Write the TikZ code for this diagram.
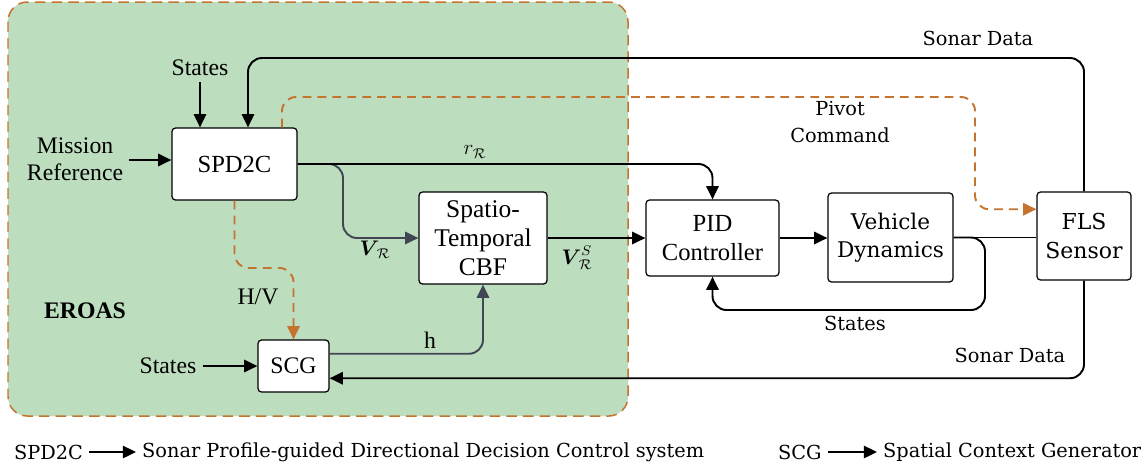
\documentclass[tikz,border=0pt]{standalone}
\usepackage{amsmath}
\usepackage{fontspec}
\setmainfont{Liberation Serif}
\newfontfamily\djserif{DejaVu Serif}
\usepackage{tikz}
\usetikzlibrary{calc}
\usetikzlibrary{arrows.meta}

\definecolor{eroasgreen}{RGB}{189,221,191}
\definecolor{pivotorange}{RGB}{196,116,46}
\definecolor{linkgray}{RGB}{64,70,82}

\begin{document}
\begin{tikzpicture}[x=0.02cm, y=-0.02cm, >={Triangle[length=7.5pt,width=7pt]},
    font=\fontsize{13.5pt}{15.5pt}\selectfont,
    block/.style={draw, fill=white, line width=0.7pt, rounded corners=2pt, align=center},
    dj/.style={font=\djserif\fontsize{11pt}{15pt}\selectfont},
    legend/.style={font=\djserif\fontsize{11pt}{14pt}\selectfont, anchor=west},
    flow/.style={line width=1.1pt},
    pivot/.style={pivotorange, line width=1.1pt, dash pattern=on 5pt off 3.5pt},
    link/.style={linkgray, line width=1.1pt},
    mathlbl/.style={font=\fontsize{12pt}{14pt}\selectfont, inner sep=1pt}]
    \useasboundingbox (0,0) rectangle (1146,468);

    % EROAS region
    \draw[pivotorange, line width=0.85pt, dash pattern=on 6pt off 3.5pt, fill=eroasgreen, rounded corners=11pt]
        (8,2) rectangle (628,416);
    \node[font=\fontsize{13.5pt}{15.5pt}\selectfont\bfseries] (eroas) at (85,311) {EROAS};

    % Blocks
    \node[block, minimum width=125*0.02cm, minimum height=72*0.02cm, font=\fontsize{14pt}{16pt}\selectfont] (spd) at (234.5,164) {SPD2C};
    \node[block, minimum width=128*0.02cm, minimum height=92*0.02cm, font=\fontsize{14.5pt}{16.5pt}\selectfont] (cbf) at (483,238) {Spatio-\\Temporal\\CBF};
    \node[block, minimum width=133*0.02cm, minimum height=76*0.02cm, font=\fontsize{14pt}{16.5pt}\selectfont] (pid) at (712.5,238) {PID\\Controller};
    \node[block, font=\djserif\fontsize{12.3pt}{16pt}\selectfont, minimum width=125*0.02cm, minimum height=89*0.02cm] (veh) at (890.5,237.5) {Vehicle\\Dynamics};
    \node[block, font=\djserif\fontsize{12.5pt}{16pt}\selectfont, minimum width=94*0.02cm, minimum height=88*0.02cm] (fls) at (1084,236) {FLS\\Sensor};
    \node[block, minimum width=71*0.02cm, minimum height=52*0.02cm] (scg) at (293.5,366) {SCG};

    % Inputs and labels
    \node (statesA) at (200,68) {States};
    \node[align=center] (mission) at (75,159) {Mission\\Reference};
    \node (statesB) at (168,366) {States};
    \node[dj] (sonarA) at (978,38) {Sonar Data};
    \node[dj] (sonarB) at (1010,355) {Sonar Data};
    \node[dj, align=center] (pivotlbl) at (840,122) {Pivot\\Command};
    \node[dj] (statesC) at (855,323) {States};
    \node[mathlbl] (rlbl) at (475,152) {$r_{\mathcal{R}}$};
    \node[mathlbl] (vlbl) at (375,250) {$\boldsymbol{V}_{\!\mathcal{R}}$};
    \node[mathlbl] (vslbl) at (577,258) {$\boldsymbol{V}^{S}_{\!\mathcal{R}}$};
    \node (hvlbl) at (258,297) {H/V};
    \node (hlbl) at (430,340) {h};

    % Bend points
    \coordinate (sonarbend) at (248,58);
    \coordinate (pivotleft) at (282,97);
    \coordinate (pivotright) at (975,97);
    \coordinate (vbend) at (343,164);
    \coordinate (fbbend) at (985,310);
    \coordinate (hvbend) at (293.5,268);

    % Connectors
    \draw[flow, ->] (statesA.south) -- (statesA.south |- spd.north);
    \draw[flow, ->, rounded corners=8pt] (fls.north) |- (sonarbend) -- (sonarbend |- spd.north);
    \draw[pivot, ->, rounded corners=8pt] (pivotleft |- spd.north) -- (pivotleft) -- (pivotright)
        |- ($(fls.north west)!0.2!(fls.south west)$);
    \draw[flow, ->] (mission.east |- 0,160) -- (spd.west |- 0,160);
    \draw[link, ->, rounded corners=8pt] (spd.east) -- (vbend) |- (cbf.west);
    \draw[flow, ->, rounded corners=8pt] (spd.east) -| (pid.north);
    \draw[flow, ->] (cbf.east) -- (pid.west);
    \draw[flow, ->] (pid.east) -- (pid.east -| veh.west);
    \draw[line width=0.5pt] (veh.east) -- (veh.east -| fls.west);
    \draw[flow, ->, rounded corners=8pt] (veh.east) -| (fbbend) -| (pid.south);
    \draw[flow, ->, rounded corners=8pt] (fls.south) |- ($(scg.north east)!0.73!(scg.south east)$);
    \draw[flow, ->] (statesB.east) -- (statesB.east -| scg.west);
    \draw[pivot, ->, rounded corners=8pt] (spd.south) |- (hvbend) -- (scg.north);
    \draw[link, ->, rounded corners=8pt] ($(scg.north east)!0.27!(scg.south east)$) -| (cbf.south);

    % Legend
    \node[legend] (legspd) at (8,452) {SPD2C};
    \node[legend] (legspdtxt) at (136,452) {Sonar Profile-guided Directional Decision Control system};
    \node[legend] (legscg) at (772,452) {SCG};
    \node[legend] (legscgtxt) at (877,452) {Spatial Context Generator};
    \draw[flow, ->] (legspd) -- (legspdtxt);
    \draw[flow, ->] (legscg) -- (legscgtxt);
\end{tikzpicture}
\end{document}
